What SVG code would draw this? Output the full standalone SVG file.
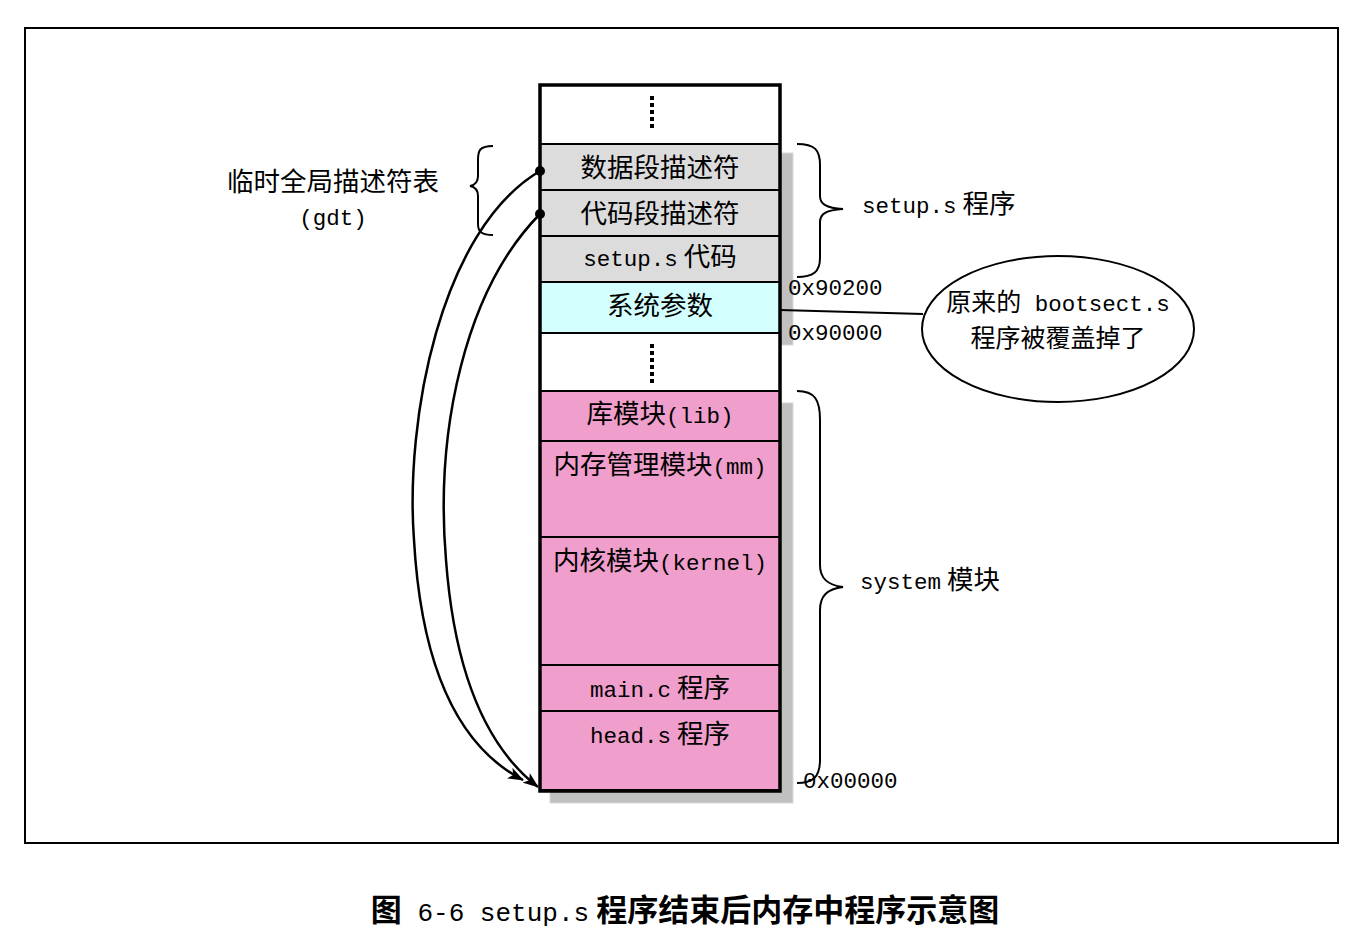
<svg xmlns="http://www.w3.org/2000/svg" width="1370" height="938" viewBox="0 0 1370 938">
<defs>
<style>
text{font-family:"Liberation Mono","Noto Sans CJK SC",monospace;font-size:22.5px;fill:#000}
.k{font-family:"Noto Sans CJK SC",sans-serif;font-size:26.5px}
.c{text-anchor:middle}
.cell{stroke:#000;stroke-width:2}
.gray{fill:#dcdcdc}
.cyan{fill:#d4ffff}
.pink{fill:#f09ecb}
.wht{fill:#fff}
.sh{fill:#c0c0c0;stroke:#d8d8d8;stroke-width:1}
.br{fill:none;stroke:#000;stroke-width:2}
.dots{stroke:#000;stroke-width:4;stroke-dasharray:4 3}
</style>
<marker id="ah" viewBox="0 0 16 12" refX="15" refY="6" markerWidth="16" markerHeight="12" markerUnits="userSpaceOnUse" orient="auto">
<path d="M0,0 L16,6 L0,12 L4,6 Z" fill="#000"/>
</marker>
</defs>
<rect x="0" y="0" width="1370" height="938" fill="#fff"/>
<rect id="frame" x="25" y="28" width="1313" height="815" fill="none" stroke="#000" stroke-width="2"/>

<g id="shadows">
<rect class="sh" x="550" y="153" width="243" height="192"/>
<rect class="sh" x="550" y="403" width="243" height="400"/>
</g>

<g id="memory">
<g id="top-gap"><rect class="cell wht" x="540" y="85" width="240" height="59"/><line class="dots" x1="652" y1="96" x2="652" y2="128"/></g>
<g id="data-desc"><rect class="cell gray" x="540" y="144" width="240" height="46"/><text class="c k" x="660" y="177">数据段描述符</text></g>
<g id="code-desc"><rect class="cell gray" x="540" y="190" width="240" height="46"/><text class="c k" x="660" y="223">代码段描述符</text></g>
<g id="setup-code"><rect class="cell gray" x="540" y="236" width="240" height="46"/><text class="c" x="660" y="266">setup.s<tspan class="k"> 代码</tspan></text></g>
<g id="sys-params"><rect class="cell cyan" x="540" y="282" width="240" height="51"/><text class="c k" x="660" y="315">系统参数</text></g>
<g id="mid-gap"><rect class="cell wht" x="540" y="333" width="240" height="58"/><line class="dots" x1="652" y1="344" x2="652" y2="384"/></g>
<g id="lib"><rect class="cell pink" x="540" y="391" width="240" height="50"/><text class="c" x="660" y="423"><tspan class="k">库模块</tspan>(lib)</text></g>
<g id="mm"><rect class="cell pink" x="540" y="441" width="240" height="96"/><text class="c" x="660" y="474"><tspan class="k">内存管理模块</tspan>(mm)</text></g>
<g id="kernel"><rect class="cell pink" x="540" y="537" width="240" height="128"/><text class="c" x="660" y="570"><tspan class="k">内核模块</tspan>(kernel)</text></g>
<g id="mainc"><rect class="cell pink" x="540" y="665" width="240" height="46"/><text class="c" x="660" y="697">main.c<tspan class="k"> 程序</tspan></text></g>
<g id="heads"><rect class="cell pink" x="540" y="711" width="240" height="79"/><text class="c" x="660" y="743">head.s<tspan class="k"> 程序</tspan></text></g>
<rect x="540" y="85" width="240" height="706" fill="none" stroke="#000" stroke-width="3.5"/>
</g>

<g id="gdt-label">
<text class="c k" x="333" y="191">临时全局描述符表</text>
<text class="c" x="333" y="225">(gdt)</text>
<path class="br" d="M493,146 C480,146 478,150 478,160 L478,176 C478,182 475,185 470,186 C475,187 478,190 478,196 L478,224 C478,232 482,235 493,235"/>
</g>

<g id="setup-label">
<path class="br" d="M797,144 C815,144 820,150 820,165 L820,196 C820,204 826,208 843,209 C826,210 820,214 820,222 L820,258 C820,272 813,277 797,277"/>
<text x="862" y="213">setup.s<tspan class="k"> 程序</tspan></text>
</g>

<g id="system-label">
<path class="br" d="M797,391 C815,391 820,400 820,420 L820,565 C820,578 827,585 843,587 C827,589 820,596 820,610 L820,760 C820,778 812,783 797,783"/>
<text x="860" y="589">system<tspan class="k"> 模块</tspan></text>
</g>

<g id="addresses">
<text x="788" y="295">0x90200</text>
<text x="788" y="340">0x90000</text>
<text x="803" y="788">0x00000</text>
</g>

<g id="note">
<ellipse cx="1058" cy="329" rx="136" ry="73" fill="#fff" stroke="#000" stroke-width="2"/>
<text class="c" x="1058" y="311"><tspan class="k" style="font-size:25px">原来的</tspan> bootsect.s</text>
<text class="c k" x="1058" y="347" style="font-size:25px">程序被覆盖掉了</text>
</g>

<g id="connectors" fill="none" stroke="#000" stroke-width="2.5">
<line x1="780" y1="310" x2="923" y2="314" stroke-width="2"/>
<path d="M540,171 C440,230 405,420 414,540 C422,680 465,750 523,780" marker-end="url(#ah)"/>
<path d="M540,214 C465,290 435,430 446,560 C455,680 490,750 538,787" marker-end="url(#ah)"/>
<circle cx="540" cy="171" r="5" fill="#000" stroke="none"/>
<circle cx="540" cy="214" r="5" fill="#000" stroke="none"/>
</g>

<text id="caption" class="c" x="685" y="921" style="font-size:26px"><tspan class="k" style="font-size:31px;font-weight:bold">图</tspan> 6-6 setup.s<tspan class="k" style="font-size:31px;font-weight:bold"> 程序结束后内存中程序示意图</tspan></text>
</svg>
